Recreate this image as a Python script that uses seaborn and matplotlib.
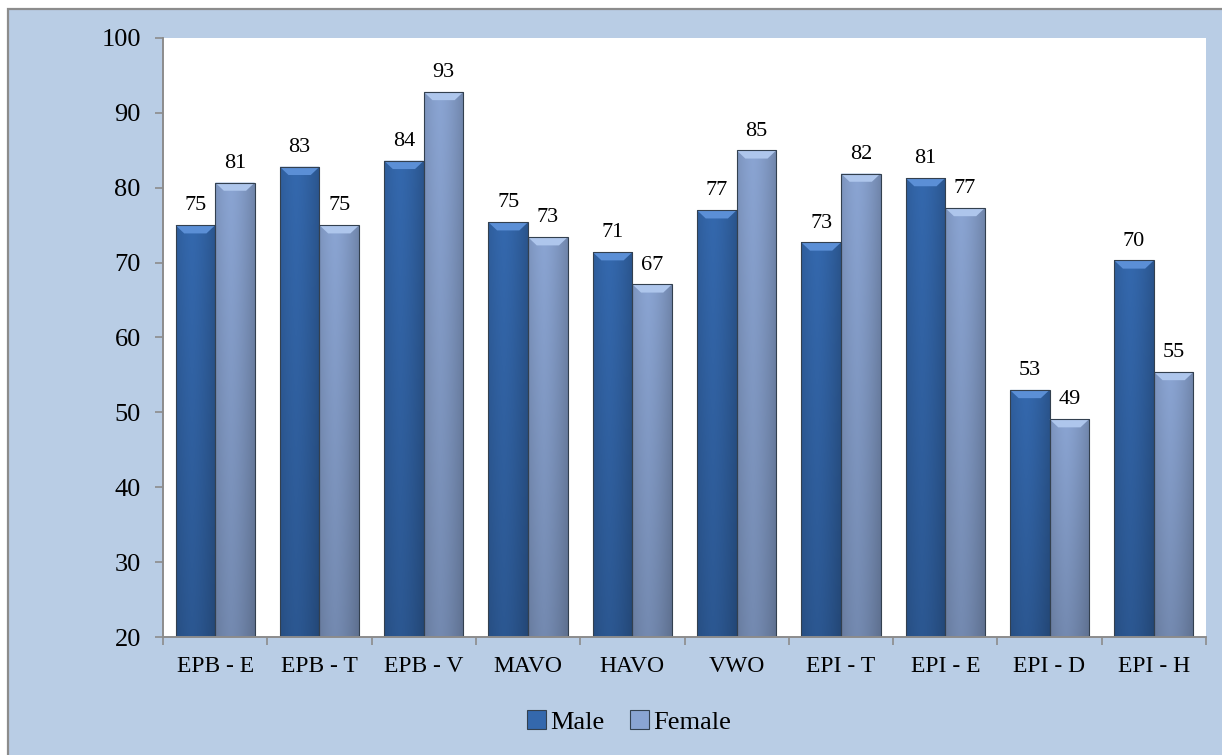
import numpy as np
import pandas as pd
import seaborn as sns
import matplotlib.pyplot as plt
from matplotlib.patches import Rectangle, Polygon, Patch
from matplotlib.colors import to_rgb

categories = ['EPB - E', 'EPB - T', 'EPB - V', 'MAVO', 'HAVO',
              'VWO', 'EPI - T', 'EPI - E', 'EPI - D', 'EPI - H']
male = [75.0, 82.8, 83.6, 75.4, 71.4, 77.0, 72.7, 81.3, 53.0, 70.3]
female = [80.7, 75.0, 92.8, 73.4, 67.1, 85.0, 81.9, 77.3, 49.1, 55.4]
groups = ['Male', 'Female']
y_ticks = [20, 30, 40, 50, 60, 70, 80, 90, 100]

df = pd.DataFrame({
    'category': categories * 2,
    'value': male + female,
    'sex': ['Male'] * len(male) + ['Female'] * len(female),
})

colors = {'Male': '#3468ad', 'Female': '#8aa4d2'}
bevel = {'Male': '#5b8fd6', 'Female': '#aec6ec'}
bg = '#b9cde5'

sns.set_theme(style='white')
plt.rcParams['font.family'] = ['Liberation Serif', 'DejaVu Serif']
plt.rcParams['text.color'] = 'black'
plt.rcParams['xtick.labelcolor'] = 'black'
plt.rcParams['ytick.labelcolor'] = 'black'

W, H = 1222, 755
fig = plt.figure(figsize=(W / 100, H / 100), dpi=100, facecolor='white')
fig.patches.append(Rectangle((8 / W, -0.1), 2, 1 - 9 / H + 0.1, transform=fig.transFigure,
                             facecolor=bg, edgecolor='#8c8c8c', lw=1.6, zorder=-10))
ax = fig.add_axes([163 / W, 1 - 637 / H, (1206 - 163) / W, (637 - 38) / H])
ax.set_facecolor('white')

sns.barplot(data=df, x='category', y='value', hue='sex', hue_order=groups,
            palette=colors, width=0.76, gap=0, legend=False, ax=ax,
            edgecolor='#33404f', linewidth=0.8)

ax.set_ylim(20, 100)
ax.set_xlim(-0.5, len(categories) - 0.5)
ax.set_yticks(y_ticks)

# gradient + bevel on each bar
ymin = 20
for cont, g in zip(ax.containers, groups):
    base = np.array(to_rgb(colors[g]))
    for bar in cont:
        x, w, h = bar.get_x(), bar.get_width(), bar.get_height()
        xs = np.linspace(0, 1, 40)
        ys = np.linspace(0, 1, 60)
        sx = 1 - 0.18 * np.abs(xs - 0.4) ** 1.5 * 2.2
        sy = 1.0 - 0.16 * (1 - ys)
        img = base[None, None, :] * sx[None, :, None] * sy[:, None, None]
        im = ax.imshow(np.clip(img, 0, 1), extent=(x, x + w, ymin, h), origin='lower',
                       aspect='auto', zorder=1.5, interpolation='bilinear')
        im.set_clip_path(bar)
        bar.set_facecolor('none')
        bar.set_zorder(2)
        dy = 1.1
        dx = w * 0.22
        ax.add_patch(Polygon([(x, h), (x + w, h), (x + w - dx, h - dy), (x + dx, h - dy)],
                             closed=True, facecolor=bevel[g], edgecolor='none', zorder=1.8))
    ax.bar_label(cont, fmt='%.0f', padding=7, fontsize=16, color='black')

for side in ['top', 'right']:
    ax.spines[side].set_visible(False)
for side in ['left', 'bottom']:
    ax.spines[side].set_color('#8c8c8c')
    ax.spines[side].set_linewidth(1.4)

ax.set_xlabel('')
ax.set_ylabel('')
ax.tick_params(axis='y', which='major', length=6, width=1.2, color='#8c8c8c',
               labelsize=19, pad=10, left=True, labelcolor='black')
ax.set_xticks(np.arange(-0.5, len(categories)), minor=True)
ax.tick_params(axis='x', which='minor', length=6, width=1.2, color='#8c8c8c', bottom=True)
ax.tick_params(axis='x', which='major', length=0, labelsize=17, pad=14, labelcolor='black')

handles = [Patch(facecolor=colors[g], edgecolor='#33404f', lw=0.8) for g in groups]
fig.legend(handles, groups, loc='center', bbox_to_anchor=(629 / W, 1 - 722 / H),
           ncol=2, frameon=False, fontsize=19, handlelength=0.7, handleheight=0.7,
           handletextpad=0.15, columnspacing=1.0, labelcolor='black')

fig.savefig('out.png', dpi=100, facecolor='white')
